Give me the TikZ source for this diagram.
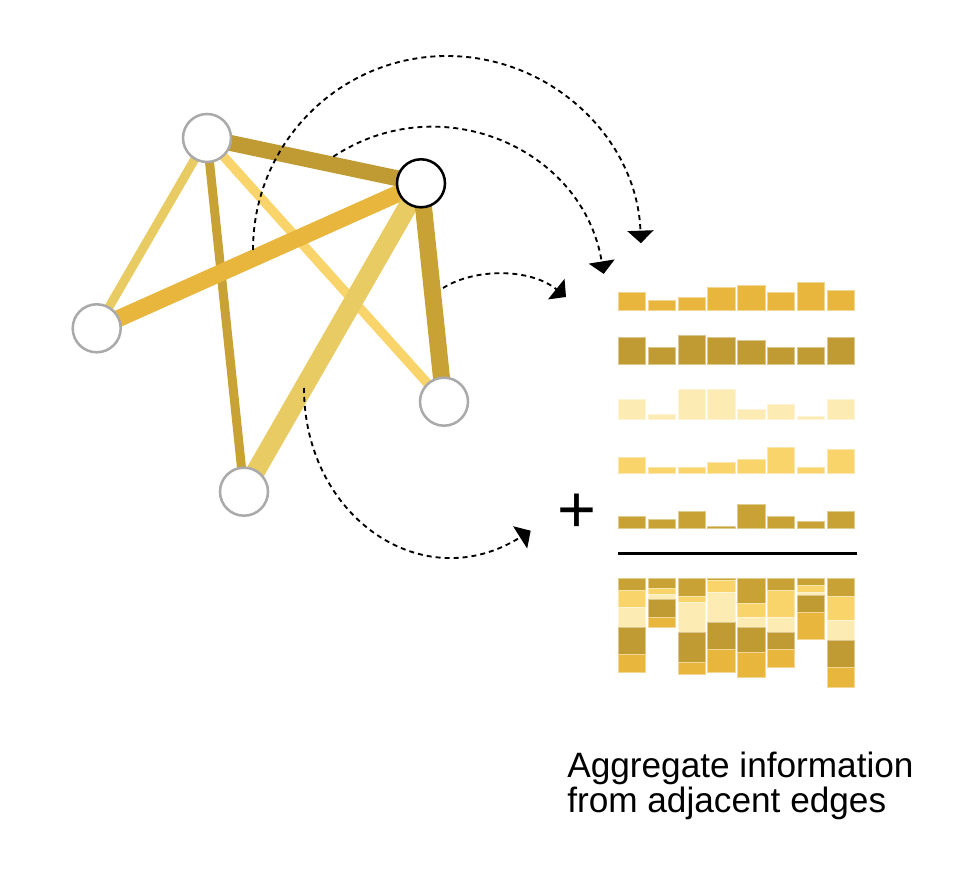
\documentclass[tikz,border=0pt]{standalone}
\usepackage{fontspec}
\setmainfont{Liberation Sans}
\usetikzlibrary{arrows.meta,backgrounds}
\definecolor{cOrange}{HTML}{E8B63D}
\definecolor{cOlive}{HTML}{C09B34}
\definecolor{cPale}{HTML}{FCEBB2}
\definecolor{cYellow}{HTML}{F8D46A}
\definecolor{cGold}{HTML}{C9A235}
\definecolor{cLight}{HTML}{E8CB62}
\definecolor{cGray}{HTML}{AAAAAA}
\begin{document}
\begin{tikzpicture}[x=0.75pt,y=-0.75pt,
  vertex/.style={circle,draw=cGray,fill=white,line width=1.9pt,minimum size=36pt,inner sep=0pt},
  focus/.style={vertex,draw=black},
  link/.style={line width=#1},
  flow/.style={line width=1.4pt,dash pattern=on 3.75pt off 3pt,-{Triangle[width=19.5pt,length=9.4pt]}},
  bar/.style={fill=#1,draw=#1!55!white,line width=0.5pt},
  caption/.style={font=\fontsize{26.4}{26.5}\selectfont,align=left,inner sep=0pt,anchor=north west},
  plus/.style={font=\fontsize{50}{50}\selectfont,inner sep=0pt,anchor=base}]
\useasboundingbox (0,0) rectangle (964,880);

% graph
\node[vertex] (A) at (207,138) {};
\node[focus]  (B) at (421,183.3) {};
\node[vertex] (C) at (96.7,328.3) {};
\node[vertex] (D) at (444,401.7) {};
\node[vertex] (E) at (244,491.7) {};
\begin{pgfonlayer}{background}
\draw[link=6.75pt,cLight]  (A.center) -- (C.center);
\draw[link=6.75pt,cGold]   (A.center) -- (E.center);
\draw[link=7pt,cYellow]    (A.center) -- (D.center);
\draw[link=12.75pt,cOrange](C.center) -- (B.center);
\draw[link=12pt,cOlive]    (A.center) -- (B.center);
\draw[link=14.25pt,cLight] (B.center) -- (E.center);
\draw[link=12.75pt,cGold]  (B.center) -- (D.center);
\end{pgfonlayer}

% bars
\foreach \i/\a/\b/\c/\d/\e in {
0/17.3/27.3/20/16.7/12.3,
1/10/17.3/5/6.7/9.7,
2/12.3/29.7/30/6.7/17.7,
3/22.3/27.3/30/11.7/2.3,
4/25/24.7/10/14.3/24.7,
5/17.3/17.3/15/26.7/12.3,
6/27.3/17.3/2.6/6.7/7.3,
7/20/27.3/20/24.3/17.7}{
  \pgfmathsetmacro\xl{618.3+29.8*\i}
  \pgfmathsetmacro\xr{\xl+27.4}
  \path[bar=cOrange] (\xl,310-\a) rectangle (\xr,310);
  \path[bar=cOlive]  (\xl,364.7-\b) rectangle (\xr,364.7);
  \path[bar=cPale]   (\xl,419.3-\c) rectangle (\xr,419.3);
  \path[bar=cYellow] (\xl,473.7-\d) rectangle (\xr,473.7);
  \path[bar=cGold]   (\xl,528.7-\e) rectangle (\xr,528.7);
  \pgfmathsetmacro\ya{578.3+\e}
  \pgfmathsetmacro\yb{\ya+\d}
  \pgfmathsetmacro\yc{\yb+\c}
  \pgfmathsetmacro\yd{\yc+\b}
  \pgfmathsetmacro\ye{\yd+\a}
  \path[bar=cGold]   (\xl,578.3) rectangle (\xr,\ya);
  \path[bar=cYellow] (\xl,\ya) rectangle (\xr,\yb);
  \path[bar=cPale]   (\xl,\yb) rectangle (\xr,\yc);
  \path[bar=cOlive]  (\xl,\yc) rectangle (\xr,\yd);
  \path[bar=cOrange] (\xl,\yd) rectangle (\xr,\ye);
}
\coordinate (r1) at (618,553.3);
\coordinate (r2) at (856.7,553.3);
\draw[line width=1.8pt] (r1) -- (r2);

\node[plus] (plus) at (576.5,532.5) {+};

% flows
\coordinate (s1) at (253,250);
\coordinate (m1) at (447,56);
\coordinate (t1) at (640.9,243.2);
\draw[flow] (s1) .. controls +(0,-107.1) and +(-107.1,0) .. (m1) .. controls +(104.5,0) and +(-3.7,-104.4) .. (t1);
\coordinate (s2) at (333.3,156.7);
\coordinate (t2) at (603.7,273.9);
\draw[flow] (s2) .. controls +(106.5,-70.7) and +(-20.5,-126.2) .. (t2);
\coordinate (s3) at (443,288);
\coordinate (t3) at (566,297);
\draw[flow] (s3) .. controls +(32,-20) and +(-36,-29) .. (t3);
\coordinate (s4) at (304,388);
\coordinate (t4) at (530.7,530.7);
\draw[flow] (s4) .. controls +(0,128.6) and +(-108,68.2) .. (t4);

\node[caption] (cap) at (567,751.5) {Aggregate information\\from adjacent edges};
\end{tikzpicture}
\end{document}
